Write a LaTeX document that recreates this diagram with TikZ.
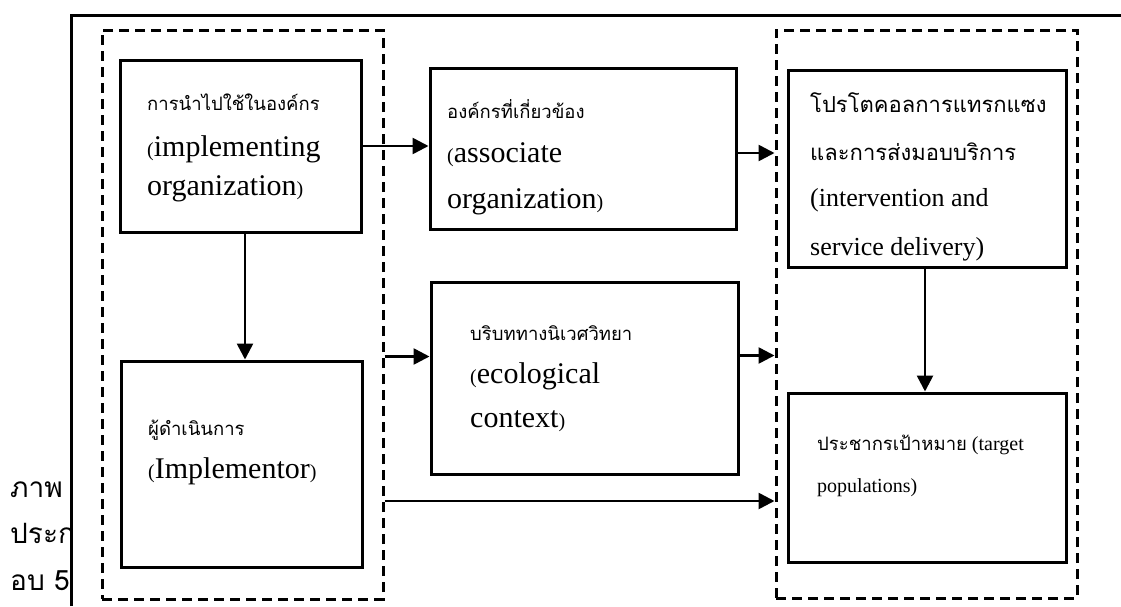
\documentclass[tikz,border=0pt]{standalone}
\usepackage{fontspec}
\setmainfont{Liberation Serif}
\newfontfamily\thai[Script=Thai]{Loma}
\usetikzlibrary{arrows.meta}
\newcommand\fsz[1]{\fontsize{#1}{#1}\selectfont}
\begin{document}
\begin{tikzpicture}[x=1pt,y=-1pt,
  box/.style={draw, line width=3pt, inner sep=0pt},
  dbox/.style={draw, line width=3pt, dash pattern=on 10pt off 6pt, inner sep=0pt},
  arr/.style={line width=2.6pt, -{Triangle[length=16pt,width=16pt]}},
  lbl/.style={anchor=base west, inner sep=0pt},
  th/.style={lbl, font=\thai\fsz{18.5}},
  en/.style={lbl, font=\fsz{30}},
  side/.style={lbl, font=\thai\fsz{28}}]
\useasboundingbox (0,0) rectangle (1121,606);
\fill[white] (0,0) rectangle (1121,606);
% outer frame
\draw[line width=3pt] (71,606) -- (71,15) -- (1121,15);
% dashed groups
\node[dbox, minimum width=281pt, minimum height=569pt] (L) at (242.5,314.5) {};
\node[dbox, minimum width=301pt, minimum height=568pt] (R) at (926.5,314) {};
% boxes
\node[box, minimum width=241pt, minimum height=172pt] (A) at (240.5,146) {};
\node[box, minimum width=306pt, minimum height=161pt] (B) at (583,148.5) {};
\node[box, minimum width=307pt, minimum height=192pt] (E) at (584.5,378) {};
\node[box, minimum width=241pt, minimum height=206pt] (I) at (241.5,464) {};
\node[box, minimum width=278pt, minimum height=197pt] (C) at (927,168.5) {};
\node[box, minimum width=278pt, minimum height=169pt] (D) at (927,477.5) {};
% texts
\node[th] (a1) at (147,110) {การนำไปใช้ในองค์กร};
\node[en] (a2) at (147,156) {{\fsz{20}(}implementing};
\node[en] (a3) at (147,195) {organization{\fsz{20})}};
\node[th] (b1) at (447,118) {องค์กรที่เกี่ยวข้อง};
\node[en] (b2) at (447,162) {{\fsz{20}(}associate};
\node[en] (b3) at (447,208) {organization{\fsz{20})}};
\node[th] (e1) at (470,340) {บริบททางนิเวศวิทยา};
\node[en] (e2) at (470,383) {{\fsz{20}(}ecological};
\node[en] (e3) at (470,427) {context{\fsz{20})}};
\node[th] (i1) at (148,435) {ผู้ดำเนินการ};
\node[en] (i2) at (148,478) {{\fsz{20}(}Implementor{\fsz{20})}};
\node[lbl, font=\thai\fsz{22}] (c1) at (810,112) {โปรโตคอลการแทรกแซง};
\node[lbl, font=\thai\fsz{22}] (c2) at (810,160) {และการส่งมอบบริการ};
\node[lbl, font=\fsz{26}] (c3) at (810,206) {(intervention and};
\node[lbl, font=\fsz{26}] (c4) at (810,255) {service delivery)};
\node[lbl, font=\fsz{20}] (d1) at (817,450) {{\thai\fsz{18.5}ประชากรเป้าหมาย} (target};
\node[lbl, font=\fsz{20}] (d2) at (817,492) {populations)};
\node[side] (s1) at (10,497) {ภาพ};
\node[side] (s2) at (10,543) {ประก};
\node[side] (s3) at (10,590) {อบ 5};
% connectors
\draw[arr] (A.east) -- (A.east -| B.west);
\draw[arr] ([yshift=-4.5pt]B.east) -- ([yshift=-4.5pt]B.east -| R.west);
\draw[arr] ([xshift=4.5pt]A.south) -- ([xshift=4.5pt]A.south |- I.north);
\path ([yshift=-76pt]E.north west) coordinate (ein);
\draw[arr] (ein -| L.east) -- (ein);
\draw[arr] ([yshift=1pt]ein -| E.east) -- ([yshift=1pt]ein -| R.west);
\path ([yshift=-186.5pt]L.east) coordinate (lo);
\draw[arr] (lo) -- (lo -| R.west);
\draw[arr] ([xshift=-2pt]C.south) -- ([xshift=-2pt]C.south |- D.north);
\end{tikzpicture}
\end{document}
